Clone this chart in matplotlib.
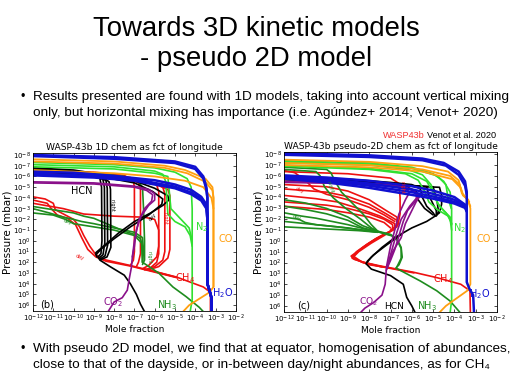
import numpy as np
import matplotlib
matplotlib.use("Agg")
import matplotlib.pyplot as plt
from matplotlib.ticker import NullLocator

# colours per species
c_h2o = "#1010d0"
c_co = "#ffa010"
c_n2 = "#30e030"
c_nh3 = "#1e8c1e"
c_ch4 = "#ee1010"
c_hcn = "#000000"
c_co2 = "#8a108a"

# ---- panel (b): 1D chemistry, curves as (log10 mole fraction, log10 pressure)
b_h2o = [
    [(-12, -8.0), (-8, -7.8), (-5, -7.4), (-4, -6.9), (-3.6, -6.0), (-3.45, -5.0), (-3.4, -4), (-3.4, 4.0), (-3.3, 4.6), (-3.2, 5.3), (-3.2, 6.6)],
    [(-12, -7.9), (-8, -7.65), (-5, -7.25), (-4, -6.7), (-3.6, -5.8), (-3.45, -4.8), (-3.4, -4), (-3.4, 4.0), (-3.3, 4.6), (-3.2, 5.3), (-3.2, 6.6)],
    [(-12, -6.45), (-10, -6.35), (-8, -6.05), (-6, -5.65), (-5, -5.25), (-4.2, -4.75), (-3.7, -4.1), (-3.45, -3.4), (-3.4, -2.5), (-3.4, 4.0), (-3.3, 4.6), (-3.2, 5.3), (-3.2, 6.6)],
    [(-12, -6.25), (-9, -6.05), (-7, -5.75), (-5, -5.05), (-4.2, -4.5), (-3.7, -3.9), (-3.45, -3.2), (-3.4, -2), (-3.4, 4.0), (-3.3, 4.6), (-3.2, 5.3), (-3.2, 6.6)],
    [(-12, -6.1), (-9, -5.9), (-7, -5.6), (-5, -4.9), (-4.2, -4.35), (-3.7, -3.75), (-3.45, -3.0), (-3.4, -2), (-3.4, 4.0), (-3.3, 4.6), (-3.2, 5.3), (-3.2, 6.6)],
]
b_co = [
    [(-12, -7.6), (-8, -7.4), (-5.5, -7.0), (-4.5, -6.6), (-3.5, -5.8), (-3.15, -5), (-3.1, -4), (-3.1, 4.3), (-3.3, 4.8), (-3.8, 5.4), (-4.3, 6.0), (-4.6, 6.6)],
    [(-12, -7.4), (-8, -7.2), (-5.5, -6.8), (-4.4, -6.3), (-3.5, -5.5), (-3.15, -4.7), (-3.1, -4), (-3.1, 4.3)],
    [(-12, -6.6), (-8, -6.3), (-6, -6.0), (-4.5, -5.6), (-3.6, -5.0), (-3.2, -4.0), (-3.1, -3)],
]
b_n2 = [
    [(-12, -7.3), (-8, -7.1), (-6, -6.8), (-5, -6.4), (-4.4, -5.8), (-4.2, -5.0), (-4.15, -3), (-4.15, 5.5), (-4.25, 6.6)],
    [(-12, -7.1), (-8, -6.9), (-6, -6.5), (-5.6, -6.2), (-5.45, -5.5), (-5.4, -4.0), (-5.35, -2.5), (-5.0, -1.8), (-4.5, -1.3), (-4.25, -0.5), (-4.15, 0.5)],
    [(-12, -6.9), (-8, -6.7), (-6, -6.3), (-5.35, -6.0), (-5.25, -4), (-5.2, -3), (-4.7, -2), (-4.3, -1.2), (-4.15, 0)],
]
b_nh3 = [
    [(-12, -3.2), (-11, -2.9), (-10, -2.6), (-9.5, -2.3), (-9, -2.1), (-8.5, -1.7), (-8, -1.3), (-7.5, -0.9), (-7, -0.6), (-6.7, -0.2), (-6.6, 0.5), (-6.6, 2.0), (-5.8, 3.0), (-5.1, 4.3), (-4.45, 5.2), (-3.8, 6.2), (-3.6, 6.6)],
    [(-12, -3.0), (-11.2, -2.6), (-10.5, -2.2), (-10, -2.0), (-9.6, -1.8), (-9, -1.6), (-8, -1.2), (-7, -0.8), (-6.6, -0.3), (-6.55, 1.0), (-6.6, 2.0)],
    [(-12, -2.6), (-11, -2.4), (-10.4, -2.0), (-10, -1.6), (-9, -1.3), (-8, -1.0), (-7, -0.5), (-6.65, 0.2), (-6.6, 2.0)],
    [(-12, -6.5), (-9, -6.3), (-7.5, -6.0), (-6.8, -5.5), (-6.6, -5.0), (-6.55, -3), (-6.5, 0), (-6.5, 1.8), (-6.6, 2.2)],
]
b_ch4 = [
    [(-12, -4.1), (-11.4, -3.9), (-11.0, -3.5), (-10.9, -2.9), (-10.5, -2.5), (-10.0, -2.0), (-9.7, -1.3), (-9.5, -0.5), (-9.2, 0.5), (-8.9, 1.3), (-8.6, 1.7), (-7.2, 2.3), (-4.93, 3.37), (-3.6, 4.3), (-3.25, 4.8), (-3.25, 6.6)],
    [(-12, -3.8), (-11.3, -3.5), (-11.1, -3.0), (-10.8, -2.4), (-10.3, -2.1), (-9.9, -1.5), (-9.6, -0.3), (-9.3, 0.8), (-8.9, 1.5), (-8.4, 1.9), (-7.2, 2.35), (-4.93, 3.42)],
    [(-12, -3.5), (-10.5, -3.0), (-9.5, -2.5), (-8, -2.3), (-6.5, -2.2), (-6.0, -2.0), (-5.8, -1.0), (-5.8, 0.5), (-5.9, 1.5), (-6.3, 2.3), (-6.6, 2.6), (-6.0, 2.85), (-4.93, 3.4)],
    [(-12, -6.6), (-9, -6.4), (-7.5, -6.1), (-7.05, -5.6), (-7.0, -5.0), (-7.0, 1.0), (-7.05, 1.8), (-7.2, 2.3)],
    [(-12, -6.5), (-9, -6.3), (-7.2, -5.9), (-6.8, -5.4), (-6.7, -4.8), (-6.7, 1.2), (-6.8, 2.0), (-6.9, 2.4)],
    [(-12, -6.4), (-9, -6.2), (-6.5, -5.7), (-5.9, -5.2), (-5.8, -4.6), (-5.8, 1.2), (-5.9, 2.0), (-6.2, 2.5)],
    [(-12, -6.3), (-9, -6.1), (-6.2, -5.5), (-5.6, -5.0), (-5.5, -4.4), (-5.5, 1.0), (-5.6, 1.8), (-6.0, 2.4), (-6.5, 2.7)],
    [(-12, -6.2), (-9, -6.0), (-6.0, -5.3), (-5.35, -4.8), (-5.25, -4.2), (-5.25, 0.8), (-5.35, 1.6), (-5.8, 2.4), (-6.3, 2.7)],
]
b_hcn = [
    [(-12, -6.8), (-10, -6.6), (-9, -6.3), (-8.7, -5.8), (-8.62, -5.0), (-8.6, 0.0), (-8.65, 1.2), (-8.8, 1.5), (-8.7, 1.8), (-8.2, 2.4), (-7.5, 3.2), (-7.2, 4.0), (-6.9, 5.0), (-6.7, 5.9), (-6.5, 6.6)],
    [(-12, -6.7), (-10, -6.5), (-9, -6.2), (-8.55, -5.7), (-8.48, -5.0), (-8.46, 0.2), (-8.55, 1.3), (-8.75, 1.6)],
    [(-12, -6.6), (-10, -6.4), (-8.8, -6.1), (-8.4, -5.6), (-8.34, -4.9), (-8.32, 0.4), (-8.45, 1.4), (-8.7, 1.7)],
    [(-12, -6.5), (-10, -6.3), (-8.6, -6.0), (-8.25, -5.5), (-8.18, -4.8), (-8.16, 0.6), (-8.35, 1.5), (-8.65, 1.75)],
    [(-12, -6.6), (-9, -6.2), (-7, -5.6), (-6, -4.9), (-5.35, -4.2), (-5.3, -3.8), (-5.6, -3.3), (-6.2, -2.6), (-7.0, -1.8), (-7.8, -0.7), (-8.4, 0.3), (-8.9, 1.1), (-8.85, 1.5)],
    [(-12, -6.5), (-9, -6.1), (-7, -5.4), (-6.1, -4.6), (-5.6, -3.9), (-5.65, -3.4), (-6.3, -2.4), (-7.2, -1.3), (-8.0, -0.2), (-8.6, 0.7), (-8.9, 1.3)],
]
b_co2 = [
    [(-12, -5.5), (-9, -5.4), (-7, -5.1), (-6.3, -4.8), (-6.0, -4.4), (-6.0, -3.8), (-6.3, -3.3), (-6.7, -2.2), (-6.9, -1.0), (-7.0, 0.5), (-7.1, 1.5), (-7.15, 2.5), (-7.25, 3.5), (-7.35, 4.6), (-7.6, 5.3), (-8.0, 5.7), (-8.3, 6.6)],
    [(-12, -5.4), (-9, -5.3), (-7, -5.0), (-6.4, -4.7), (-6.1, -4.3), (-6.15, -3.7), (-6.5, -3.0), (-6.8, -1.8), (-7.0, 0.0), (-7.1, 1.5)],
]

# ---- panel (c): pseudo-2D chemistry
c_h2o_curves = [
    [(-12, -8.1), (-8, -7.9), (-5.5, -7.6), (-4.5, -7.2), (-3.8, -6.4), (-3.5, -5.5), (-3.42, -4.5), (-3.42, 3.8), (-3.3, 4.4), (-3.12, 5.0), (-3.08, 6.6)],
    [(-12, -7.95), (-8, -7.75), (-5.5, -7.45), (-4.4, -6.95), (-3.8, -6.1), (-3.5, -5.1), (-3.42, -4.3)],
    [(-12, -6.05), (-10, -5.85), (-8, -5.55), (-6, -5.05), (-5, -4.65), (-4, -4.05), (-3.5, -3.35), (-3.42, -2.8)],
    [(-12, -5.95), (-10, -5.7), (-8, -5.3), (-6, -4.75), (-5, -4.35), (-4, -3.8), (-3.5, -3.25), (-3.42, -2.8)],
    [(-12, -5.85), (-10, -5.55), (-8, -5.1), (-6, -4.5), (-5, -4.1), (-4, -3.6), (-3.5, -3.15), (-3.42, -2.8)],
    [(-12, -5.75), (-10, -5.4), (-8, -4.9), (-6, -4.25), (-5, -3.9), (-4, -3.45), (-3.5, -3.05), (-3.42, -2.7)],
]
c_co_curves = [
    [(-12, -7.5), (-8, -7.3), (-5.5, -6.9), (-4.3, -6.4), (-3.8, -5.6), (-3.7, -4.8), (-3.6, -4.2), (-3.35, -3.8), (-3.25, -3.0), (-3.25, 4.0), (-3.4, 4.6), (-3.9, 5.3), (-4.4, 6.0), (-4.7, 6.6)],
    [(-12, -7.2), (-8, -7.0), (-5.5, -6.6), (-4.2, -6.0), (-3.75, -5.2), (-3.65, -4.4), (-3.4, -3.9), (-3.25, -3.2)],
    [(-12, -7.0), (-8, -6.8), (-5.5, -6.4), (-4.1, -5.7), (-3.7, -4.9), (-3.6, -4.3), (-3.3, -3.6)],
]
c_n2_curves = [
    [(-12, -7.4), (-8, -7.2), (-6, -6.8), (-5, -6.2), (-4.5, -5.5), (-4.2, -4.5), (-4.13, -3), (-4.13, 5.5), (-4.2, 6.6)],
    [(-12, -7.2), (-8, -7.0), (-6.2, -6.6), (-5.5, -6.1), (-5.1, -5.2), (-4.9, -4.0), (-4.7, -3.2), (-4.4, -2.6), (-4.2, -2.0), (-4.13, -1.0)],
    [(-12, -7.0), (-8, -6.7), (-6, -6.2), (-5.3, -5.5), (-5.0, -4.5), (-4.8, -3.5), (-4.5, -2.8), (-4.2, -2.2), (-4.13, -1.5)],
    [(-12, -6.9), (-8, -6.6), (-6.3, -6.2), (-5.7, -5.6), (-5.4, -4.6), (-5.2, -3.6), (-4.8, -2.9), (-4.3, -2.3), (-4.13, -1.6)],
    [(-12, -7.3), (-8, -7.1), (-6, -6.7), (-4.8, -6.0), (-4.4, -5.2), (-4.3, -4.0), (-4.15, -3.0)],
]
c_nh3_curves = [
    [(-12, -3.8), (-11, -3.5), (-10, -3.0), (-9, -2.2), (-8.3, -1.4), (-7.6, -0.9), (-7, -0.6), (-6.7, -0.2), (-6.5, 0.6), (-6.45, 1.5), (-6.6, 2.2), (-6.75, 2.5), (-5.6, 3.7), (-4.83, 4.6), (-4.2, 5.55), (-3.74, 6.6)],
    [(-12, -3.2), (-11, -2.9), (-10, -2.5), (-9, -1.9), (-8.3, -1.2), (-7.6, -0.85), (-7, -0.55), (-6.7, -0.1), (-6.5, 0.7), (-6.5, 1.6), (-6.7, 2.4)],
    [(-12, -2.6), (-11.2, -2.3), (-10.5, -2.1), (-10, -1.9), (-9, -1.5), (-8, -1.0), (-7.6, -0.85), (-7, -0.5)],
    [(-12, -1.8), (-11, -1.6), (-10, -1.4), (-9, -1.2), (-8, -0.9), (-7.6, -0.8)],
    [(-12, -1.3), (-10, -1.1), (-8.5, -0.95), (-7.6, -0.8)],
    [(-12, -2.2), (-11.3, -2.0), (-11.0, -1.7), (-10.5, -1.5), (-9.5, -1.3), (-8.3, -1.0), (-7.6, -0.85)],
    [(-12, -6.8), (-10, -6.6), (-9.8, -6.3), (-9.6, -5.5), (-9.3, -4.5), (-8.8, -3.5), (-8.3, -2.5), (-7.9, -1.5), (-7.6, -0.9)],
    [(-12, -6.6), (-10.5, -6.4), (-10.3, -6.0), (-10.1, -5.0), (-9.7, -4.0), (-9.1, -3.0), (-8.4, -2.0), (-7.9, -1.2), (-7.6, -0.9)],
]
c_ch4_curves = [
    [(-12, -5.2), (-10, -5.0), (-9, -4.6), (-8, -3.8), (-7.2, -2.8), (-6.7, -2.2), (-6.65, -1.5), (-6.9, -1.0), (-7.5, -0.4), (-8.0, 0.2), (-8.5, 0.9), (-8.85, 1.4), (-8.7, 1.7), (-8.2, 2.0), (-7.5, 2.3), (-5.9, 2.9), (-4.8, 3.4), (-3.7, 4.0), (-3.27, 4.6), (-3.25, 6.6)],
    [(-12, -4.8), (-10, -4.5), (-9, -4.1), (-8, -3.4), (-7.2, -2.5), (-6.7, -1.9), (-6.7, -1.3), (-7.0, -0.9), (-7.6, -0.3), (-8.1, 0.3), (-8.6, 1.0), (-8.8, 1.5), (-8.4, 1.9), (-7.5, 2.35), (-5.9, 2.95)],
    [(-12, -4.2), (-10.5, -3.9), (-9.5, -3.6), (-8.5, -3.0), (-7.5, -2.3), (-6.8, -1.6), (-6.8, -1.1), (-7.1, -0.8), (-7.7, -0.2), (-8.3, 0.6), (-8.75, 1.4), (-8.3, 2.0), (-7.4, 2.4)],
    [(-12, -3.6), (-10, -3.3), (-9, -3.0), (-8, -2.5), (-7.3, -2.0), (-6.9, -1.5), (-6.9, -1.0), (-7.3, -0.5), (-7.9, 0.2), (-8.5, 1.0), (-8.8, 1.6), (-8.0, 2.2), (-7.0, 2.5)],
    [(-12, -3.2), (-10, -2.9), (-9, -2.6), (-8, -2.2), (-7.3, -1.7), (-7.0, -1.2)],
    [(-12, -6.4), (-9, -6.2), (-7, -5.8), (-6.6, -5.3), (-6.55, -4.0), (-6.55, -2.5), (-6.65, -1.5), (-7.0, -1.0)],
    [(-12, -6.5), (-11.5, -6.3), (-11.0, -5.6), (-10.6, -4.8), (-10, -4.3), (-9, -3.8), (-8, -3.1), (-7.3, -2.4), (-6.8, -1.8)],
]
c_hcn_curves = [
    [(-12, -5.9), (-9, -5.7), (-7, -5.4), (-6.0, -5.2), (-5.6, -4.8), (-5.5, -4.0), (-5.3, -3.2), (-5.0, -2.6), (-4.9, -2.3), (-5.3, -1.8), (-6.0, -1.2), (-6.8, -0.3), (-7.4, 0.6), (-7.9, 1.5), (-8.15, 2.1), (-7.9, 2.6), (-7.0, 3.2), (-6.4, 4.0), (-6.24, 5.2), (-6.0, 6.0), (-5.85, 6.6)],
    [(-12, -5.8), (-9, -5.6), (-7, -5.3), (-5.6, -5.05), (-5.3, -5.0), (-5.2, -4.2), (-5.0, -3.4), (-4.85, -2.8), (-4.85, -2.4)],
    [(-12, -5.7), (-9, -5.5), (-7, -5.2), (-5.0, -5.0), (-4.9, -4.3), (-4.8, -3.5), (-4.75, -2.7), (-4.85, -2.3)],
    [(-12, -5.65), (-9, -5.45), (-7, -5.15), (-4.7, -4.95), (-4.6, -4.2), (-4.6, -3.4), (-4.7, -2.6), (-4.9, -2.3)],
    [(-12, -5.75), (-9, -5.55), (-6.5, -5.2), (-5.8, -4.6), (-5.7, -3.8), (-5.4, -3.0), (-5.0, -2.4)],
    [(-6.5, -0.6), (-7.2, 0.4), (-7.8, 1.3), (-8.1, 1.9)],
]
c_co2_curves = [
    [(-12, -5.5), (-9, -5.4), (-7, -5.2), (-6.3, -5.0), (-5.9, -4.6), (-5.7, -4.0), (-5.9, -3.5), (-6.2, -2.8), (-6.4, -1.8), (-6.6, -0.5), (-6.8, 0.8), (-7.0, 1.8), (-7.2, 2.7), (-7.25, 4.0), (-7.4, 5.0), (-7.8, 5.7), (-8.2, 6.2), (-8.4, 6.6)],
    [(-12, -5.45), (-9, -5.35), (-7, -5.1), (-6.1, -4.8), (-5.6, -4.2), (-5.8, -3.6), (-6.0, -2.8), (-6.3, -1.6), (-6.5, -0.3), (-6.9, 1.0), (-7.2, 2.7)],
    [(-12, -5.4), (-9, -5.3), (-7, -5.05), (-6.3, -4.85), (-6.1, -4.5), (-6.3, -3.8), (-6.6, -2.5), (-6.8, -1.0), (-7.0, 0.5), (-7.2, 2.5)],
    [(-6.0, -4.7), (-5.75, -4.3), (-5.8, -3.9), (-6.1, -3.2), (-6.5, -2.0), (-6.7, -0.8), (-6.9, 0.6), (-7.15, 2.3)],
]

x_ticks = [1e-12, 1e-11, 1e-10, 1e-9, 1e-8, 1e-7, 1e-6, 1e-5, 1e-4, 1e-3, 1e-2]
y_ticks = [1e-8, 1e-7, 1e-6, 1e-5, 1e-4, 1e-3, 1e-2, 1e-1, 1e0, 1e1, 1e2, 1e3, 1e4, 1e5, 1e6]

fig = plt.figure(figsize=(5.12, 3.86), dpi=100)
fig.patch.set_facecolor("white")

slide_font = ["Liberation Sans", "DejaVu Sans"]
fig.text(0.5, 0.925, "Towards 3D kinetic models", ha="center", va="center", fontsize=19.8, family=slide_font)
fig.text(0.5, 0.848, "- pseudo 2D model", ha="center", va="center", fontsize=19.8, family=slide_font)
fig.text(0.040, 0.748, "•", ha="left", va="center", fontsize=9, family=slide_font)
fig.text(0.064, 0.748, "Results presented are found with 1D models, taking into account vertical mixing",
         ha="left", va="center", fontsize=9.7, family=slide_font)
fig.text(0.064, 0.708, "only, but horizontal mixing has importance (i.e. Agúndez+ 2014; Venot+ 2020)",
         ha="left", va="center", fontsize=9.7, family=slide_font)
fig.text(0.040, 0.096, "•", ha="left", va="center", fontsize=9, family=slide_font)
fig.text(0.064, 0.096, "With pseudo 2D model, we find that at equator, homogenisation of abundances,",
         ha="left", va="center", fontsize=9.7, family=slide_font)
fig.text(0.064, 0.055, "close to that of the dayside, or in-between day/night abundances, as for CH₄",
         ha="left", va="center", fontsize=9.7, family=slide_font)

ax1 = fig.add_axes([0.0645, 0.194, 0.396, 0.410])
ax2 = fig.add_axes([0.5547, 0.192, 0.416, 0.414])


def draw(ax, curves, color, lw=1.2):
    for cv in curves:
        arr = np.array(cv)
        ax.plot(10 ** arr[:, 0], 10 ** arr[:, 1], color=color, lw=lw, solid_capstyle="round")


draw(ax1, b_ch4, c_ch4)
draw(ax1, b_nh3, c_nh3)
draw(ax1, b_hcn, c_hcn)
draw(ax1, b_co2, c_co2)
draw(ax1, b_n2, c_n2)
draw(ax1, b_co, c_co, 1.3)
draw(ax1, b_h2o, c_h2o, 1.8)

draw(ax2, c_ch4_curves, c_ch4)
draw(ax2, c_nh3_curves, c_nh3)
draw(ax2, c_hcn_curves, c_hcn)
draw(ax2, c_co2_curves, c_co2)
draw(ax2, c_n2_curves, c_n2)
draw(ax2, c_co_curves, c_co, 1.3)
draw(ax2, c_h2o_curves, c_h2o, 1.8)

for ax in (ax1, ax2):
    ax.set_xscale("log")
    ax.set_yscale("log")
    ax.set_xlim(1e-12, 1e-2)
    ax.set_ylim(10 ** 6.55, 10 ** -8.2)
    ax.set_xticks(x_ticks)
    ax.set_yticks(y_ticks)
    ax.xaxis.set_minor_locator(NullLocator())
    ax.yaxis.set_minor_locator(NullLocator())
    ax.tick_params(direction="in", top=True, right=True, length=2.5, width=0.5, labelsize=5.0, pad=1.5)
    for s in ax.spines.values():
        s.set_linewidth(0.6)
    ax.set_xlabel("Mole fraction", fontsize=6.5, labelpad=0.5)
    ax.set_ylabel("Pressure (mbar)", fontsize=7.5, labelpad=0.5)

ax1.set_title("WASP-43b 1D chem as fct of longitude", fontsize=6.6, pad=2)
ax2.set_title("WASP-43b pseudo-2D chem as fct of longitude", fontsize=6.6, pad=2)
fig.text(0.748, 0.650, "WASP43b", color="#f03030", fontsize=6.6, ha="left", va="center", family=slide_font)
fig.text(0.834, 0.650, "Venot et al. 2020", color="black", fontsize=6.6, ha="left", va="center", family=slide_font)

# species labels, panel (b)
ax1.text(10 ** -9.6, 10 ** -4.6, "HCN", color=c_hcn, fontsize=7, ha="center", va="center")
ax1.text(10 ** -3.7, 10 ** -1.3, "N$_2$", color=c_n2, fontsize=7, ha="center", va="center")
ax1.text(10 ** -2.5, 10 ** -0.2, "CO", color=c_co, fontsize=7, ha="center", va="center")
ax1.text(10 ** -4.5, 10 ** 3.5, "CH$_4$", color=c_ch4, fontsize=7, ha="center", va="center")
ax1.text(10 ** -2.65, 10 ** 4.85, "H$_2$O", color=c_h2o, fontsize=7, ha="center", va="center")
ax1.text(10 ** -5.4, 10 ** 6.0, "NH$_3$", color=c_nh3, fontsize=7, ha="center", va="center")
ax1.text(10 ** -8.05, 10 ** 5.7, "CO$_2$", color=c_co2, fontsize=7, ha="center", va="center")
ax1.text(10 ** -11.3, 10 ** 5.9, "(b)", color="black", fontsize=7, ha="center", va="center")
ax1.text(10 ** -8.1, 10 ** -3.3, "night", color=c_hcn, fontsize=3.5, rotation=-90, ha="center", va="center")
ax1.text(10 ** -9.7, 10 ** 1.5, "day", color=c_ch4, fontsize=3.5, rotation=-20, ha="center", va="center")
ax1.text(10 ** -10.3, 10 ** -1.8, "day", color=c_nh3, fontsize=3.5, rotation=-15, ha="center", va="center")
ax1.text(10 ** -5.5, 10 ** -2.1, "night", color=c_ch4, fontsize=3.5, rotation=-90, ha="center", va="center")
ax1.text(10 ** -6.3, 10 ** 1.5, "night", color=c_nh3, fontsize=3.5, rotation=-90, ha="center", va="center")
ax1.text(10 ** -6.1, 10 ** -2.2, "day", color=c_hcn, fontsize=3.5, rotation=50, ha="center", va="center")

# species labels, panel (c)
ax2.text(10 ** -3.74, 10 ** -1.15, "N$_2$", color=c_n2, fontsize=7, ha="center", va="center")
ax2.text(10 ** -2.64, 10 ** -0.2, "CO", color=c_co, fontsize=7, ha="center", va="center")
ax2.text(10 ** -4.52, 10 ** 3.5, "CH$_4$", color=c_ch4, fontsize=7, ha="center", va="center")
ax2.text(10 ** -2.8, 10 ** 4.9, "H$_2$O", color=c_h2o, fontsize=7, ha="center", va="center")
ax2.text(10 ** -5.3, 10 ** 6.0, "NH$_3$", color=c_nh3, fontsize=7, ha="center", va="center")
ax2.text(10 ** -6.85, 10 ** 6.05, "HCN", color=c_hcn, fontsize=6.6, ha="center", va="center")
ax2.text(10 ** -8.05, 10 ** 5.6, "CO$_2$", color=c_co2, fontsize=6.6, ha="center", va="center")
ax2.text(10 ** -11.1, 10 ** 6.0, "(c)", color="black", fontsize=7, ha="center", va="center")
ax2.text(10 ** -11.25, 10 ** -4.7, "day", color=c_ch4, fontsize=3.5, rotation=-20, ha="center", va="center")
ax2.text(10 ** -9.84, 10 ** -5.0, "night", color=c_nh3, fontsize=3.5, rotation=-70, ha="center", va="center")
ax2.text(10 ** -6.45, 10 ** -4.9, "night", color=c_ch4, fontsize=3.5, rotation=-90, ha="center", va="center")
ax2.text(10 ** -11.4, 10 ** -2.1, "day", color=c_nh3, fontsize=3.5, rotation=-15, ha="center", va="center")

fig.savefig("out.png", dpi=100)
